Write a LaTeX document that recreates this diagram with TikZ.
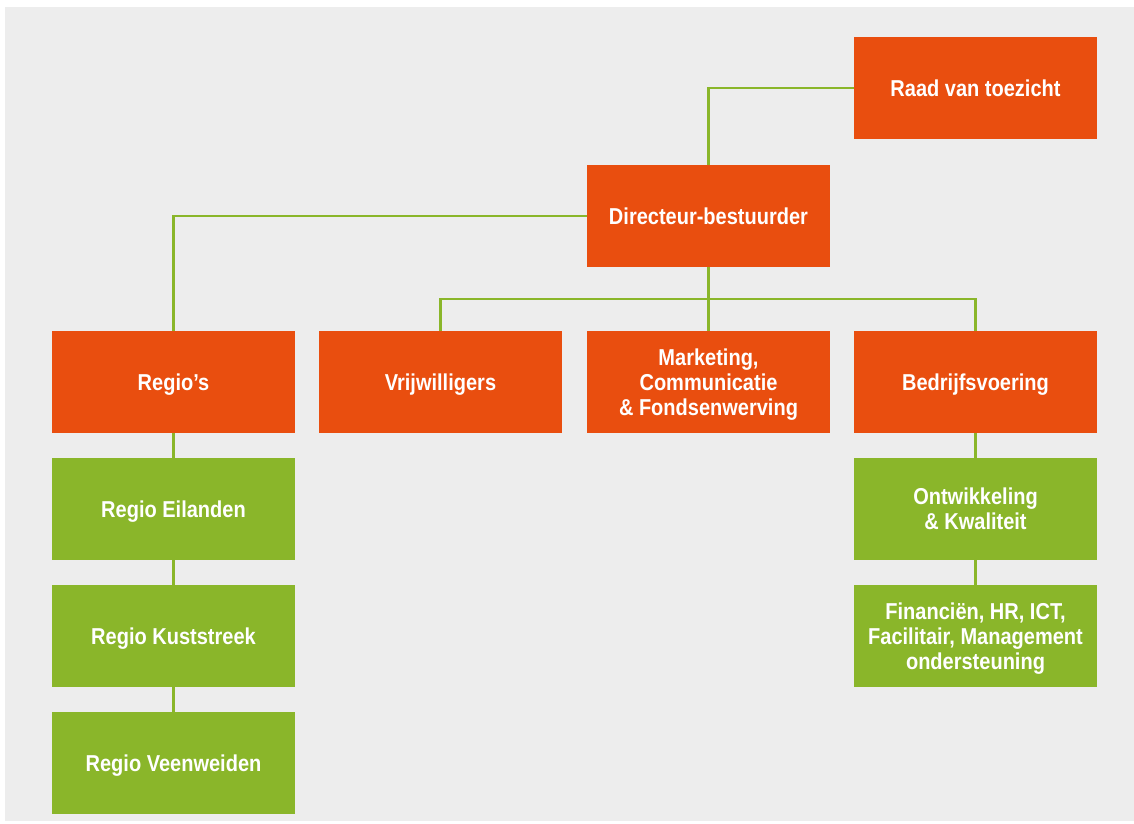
\documentclass[tikz,border=0pt]{standalone}
\usepackage{fontspec}
\setmainfont{Liberation Sans}[FakeStretch=0.87]
\definecolor{bg}{HTML}{EDEDED}
\definecolor{org}{HTML}{E94E0F}
\definecolor{grn}{HTML}{8AB62A}
\begin{document}
\begin{tikzpicture}[x=1pt,y=-1pt,
  box/.style={rectangle,minimum width=243pt,minimum height=102pt,inner sep=0pt,
    text depth=0pt,
    text=white,align=center,font=\fontsize{23}{25}\selectfont\bfseries},
  obox/.style={box,fill=org},
  gbox/.style={box,fill=grn},
  conn/.style={draw=grn,line width=2.2pt}]
\useasboundingbox (0,0) rectangle (1134,823);
\fill[white] (0,0) rectangle (1134,823);
\fill[bg] (5,7) rectangle (1134,821);
\node[obox] (raad) at (975.5,88) {Raad van toezicht};
\node[obox] (dir) at (708.5,216) {Directeur-bestuurder};
\node[obox] (reg) at (173.5,382) {Regio's};
\node[obox] (vrij) at (440.5,382) {Vrijwilligers};
\node[obox] (mark) at (708.5,382) {Marketing,\\Communicatie\\\& Fondsenwerving};
\node[obox] (bedr) at (975.5,382) {Bedrijfsvoering};
\node[gbox] (eil) at (173.5,509) {Regio Eilanden};
\node[gbox] (kust) at (173.5,636) {Regio Kuststreek};
\node[gbox] (veen) at (173.5,763) {Regio Veenweiden};
\node[gbox] (ontw) at (975.5,509) {Ontwikkeling\\\& Kwaliteit};
\node[gbox] (fin) at (975.5,636) {Financiën, HR, ICT,\\Facilitair, Management\\ondersteuning};
\coordinate (bus) at (708.5,299);
\draw[conn] (raad.west) -| (dir.north);
\draw[conn] (dir.west) -| (reg.north);
\draw[conn] (dir.south) -- (mark.north);
\draw[conn] (vrij.north) |- (bus) -| (bedr.north);
\draw[conn] (reg.south) -- (eil.north);
\draw[conn] (eil.south) -- (kust.north);
\draw[conn] (kust.south) -- (veen.north);
\draw[conn] (bedr.south) -- (ontw.north);
\draw[conn] (ontw.south) -- (fin.north);
\end{tikzpicture}
\end{document}
